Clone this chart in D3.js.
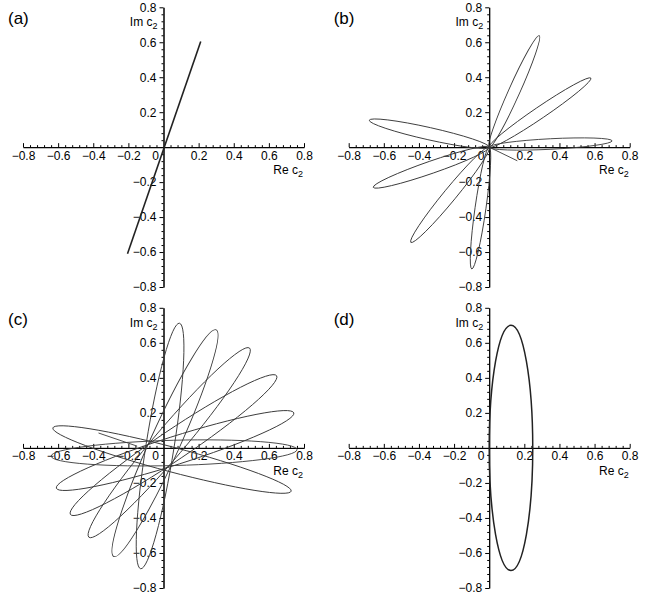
<!DOCTYPE html>
<html>
<head>
<meta charset="utf-8">
<script src="https://cdn.jsdelivr.net/npm/d3@7"></script>
<style>
  body { margin: 0; background: #fff; }
  svg { font-family: "Liberation Sans", Arial, sans-serif; }
  .axis path, .axis line { stroke: #000; stroke-width: 1; }
  .axis text { font-size: 12px; fill: #000; }
</style>
</head>
<body>
<div class="svg-container"></div>
<script>
// tick labels shared by every panel
var majorTicks = [-0.8, -0.6, -0.4, -0.2, 0.2, 0.4, 0.6, 0.8];
var panelLabels = ["(a)", "(b)", "(c)", "(d)"];

// (a) a straight segment through the origin
var lineA = [[-0.205, -0.61], [0.212, 0.605]];

// (b) petals from the origin: far tip and half width
var petalTipsB = [[0.285, 0.638], [0.579, 0.395], [0.70, 0.036], [-0.683, 0.154],
                  [-0.66, -0.23], [-0.446, -0.545], [-0.099, -0.697]];
var petalWidthB = [0.032, 0.033, 0.03, 0.035, 0.035, 0.036, 0.031];
var tailB = [[0, 0], [0.16, -0.078]];

// (c) long ellipses: the two far ends and half width
var loopEndA = [[0.091, 0.712], [0.30, 0.674], [0.49, 0.57], [0.644, 0.412],
                [0.742, 0.20], [0.76, -0.01], [0.727, -0.247]];
var loopEndB = [[-0.13, -0.69], [-0.283, -0.62], [-0.425, -0.51], [-0.53, -0.38],
                [-0.61, -0.23], [-0.64, -0.047], [-0.63, 0.114]];
var loopWidthC = [0.08, 0.085, 0.085, 0.085, 0.08, 0.072, 0.07];
var tailC = [[-0.37, 0.085], [-0.15, 0.01]];

// (d) one ellipse
var ellipseD = {cx: 0.124, cy: 0, rx: 0.124, ry: 0.70};

var width = 665, height = 604;

var svg = d3.select(".svg-container")
    .append("svg")
    .attr("width", width)
    .attr("height", height);

var panels = [
    {x0: 23, x1: 304, y0: 287, y1: 7.3},
    {x0: 348.7, x1: 629.7, y0: 287, y1: 7.3},
    {x0: 23, x1: 304, y0: 588, y1: 307.8},
    {x0: 348.7, x1: 629.7, y0: 588, y1: 307.8}
];

var minorTicks = d3.range(-20, 21).filter(i => i % 5 != 0).map(i => i * 0.04);

function makePanel(p, i) {
    var x = d3.scaleLinear().domain([-0.8, 0.8]).range([p.x0, p.x1]);
    var y = d3.scaleLinear().domain([-0.8, 0.8]).range([p.y0, p.y1]);
    var g = svg.append("g");

    // x axis: ticks point up, labels below
    g.append("g").attr("class", "axis")
        .attr("transform", `translate(0, ${y(0)})`)
        .call(d3.axisBottom(x).tickValues(minorTicks).tickSizeInner(-2).tickSizeOuter(0).tickFormat(""));
    g.append("g").attr("class", "axis")
        .attr("transform", `translate(0, ${y(0)})`)
        .call(d3.axisBottom(x).tickValues(majorTicks).tickSizeInner(-4).tickSizeOuter(0)
            .tickPadding(4).tickFormat(d3.format(".1f")));

    // y axis: ticks point left
    g.append("g").attr("class", "axis")
        .attr("transform", `translate(${x(0)}, 0)`)
        .call(d3.axisLeft(y).tickValues(minorTicks).tickSizeInner(2).tickSizeOuter(0).tickFormat(""));
    g.append("g").attr("class", "axis")
        .attr("transform", `translate(${x(0)}, 0)`)
        .call(d3.axisLeft(y).tickValues(majorTicks).tickSizeInner(4).tickSizeOuter(0)
            .tickPadding(3).tickFormat(d3.format(".1f")));

    g.selectAll(".axis .domain").attr("stroke-width", 1.1);

    // shared zero
    g.append("text")
        .attr("x", x(0) - 8).attr("y", y(0) + 4).attr("dy", "0.71em")
        .attr("text-anchor", "middle").attr("font-size", 12)
        .text("0");

    var im = g.append("text")
        .attr("x", x(0) - 6).attr("y", y(0.8) + 19)
        .attr("text-anchor", "end").attr("font-size", 12);
    im.append("tspan").text("Im c");
    im.append("tspan").attr("font-size", 9).attr("dy", 3).text("2");

    var re = g.append("text")
        .attr("x", x(0.8) - 1).attr("y", y(0) + 27)
        .attr("text-anchor", "end").attr("font-size", 12);
    re.append("tspan").text("Re c");
    re.append("tspan").attr("font-size", 9).attr("dy", 3).text("2");

    g.append("text")
        .attr("x", p.x0 - 15).attr("y", y(0.8) + 17)
        .attr("font-size", 17)
        .text(panelLabels[i]);

    return {g: g, x: x, y: y};
}

// ellipse whose long axis runs from a to b in data space
function drawLoop(pan, a, b, w, stroke, sw) {
    var ax = pan.x(a[0]), ay = pan.y(a[1]), bx = pan.x(b[0]), by = pan.y(b[1]);
    var cx = (ax + bx) / 2, cy = (ay + by) / 2;
    var rx = Math.hypot(bx - ax, by - ay) / 2;
    var ry = pan.x(w) - pan.x(0);
    var ang = Math.atan2(by - ay, bx - ax) * 180 / Math.PI;
    pan.g.append("ellipse")
        .attr("cx", 0).attr("cy", 0).attr("rx", rx).attr("ry", ry)
        .attr("transform", `translate(${cx},${cy}) rotate(${ang})`)
        .attr("fill", "none").attr("stroke", stroke).attr("stroke-width", sw);
}

var pa = makePanel(panels[0], 0),
    pb = makePanel(panels[1], 1),
    pc = makePanel(panels[2], 2),
    pd = makePanel(panels[3], 3);

// (a)
pa.g.append("path")
    .datum(lineA)
    .attr("d", d3.line().x(d => pa.x(d[0])).y(d => pa.y(d[1])))
    .attr("fill", "none").attr("stroke", "#222").attr("stroke-width", 1.6);

// (b)
petalTipsB.forEach((t, k) => drawLoop(pb, [0, 0], t, petalWidthB[k], "#3a3a3a", 0.9));
pb.g.append("path")
    .datum(tailB)
    .attr("d", d3.line().x(d => pb.x(d[0])).y(d => pb.y(d[1])))
    .attr("fill", "none").attr("stroke", "#3a3a3a").attr("stroke-width", 0.9);

// (c)
loopEndA.forEach((t, k) => drawLoop(pc, loopEndB[k], t, loopWidthC[k], "#3a3a3a", 0.9));
pc.g.append("path")
    .datum(tailC)
    .attr("d", d3.line().x(d => pc.x(d[0])).y(d => pc.y(d[1])))
    .attr("fill", "none").attr("stroke", "#3a3a3a").attr("stroke-width", 0.9);

// (d)
pd.g.append("ellipse")
    .attr("cx", pd.x(ellipseD.cx)).attr("cy", pd.y(ellipseD.cy))
    .attr("rx", pd.x(ellipseD.rx) - pd.x(0)).attr("ry", pd.y(0) - pd.y(ellipseD.ry))
    .attr("fill", "none").attr("stroke", "#222").attr("stroke-width", 1.5);
</script>
</body>
</html>
